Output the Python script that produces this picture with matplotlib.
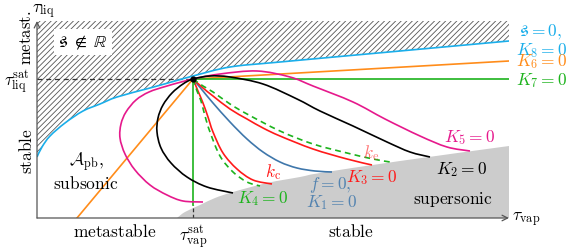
import matplotlib
matplotlib.use("Agg")
import matplotlib.pyplot as plt
from matplotlib.path import Path
from matplotlib.patches import PathPatch

plt.rcParams['mathtext.fontset'] = 'cm'
plt.rcParams['hatch.linewidth'] = 0.6
plt.rcParams['hatch.color'] = '#555555'

# ---------------- data (schematic coordinates: tau_vap, tau_liq) ----------------
sat_point = (156, 139)

cyan_x = [0, 5, 13, 28, 46, 63, 80, 113, 138, 156, 193, 243, 363, 472]
cyan_y = [61, 71, 82, 95, 107, 114, 121, 130, 137, 142, 151, 156, 167, 177]

orange_x = [40, 156, 472]
orange_y = [0, 139, 157]

k7_x = [156, 472]
k7_y = [139, 139]
k7v_x = [156, 156]
k7v_y = [139, 13]

pink_x = [166, 146, 130, 113, 98, 88, 83, 84, 89, 99, 112, 130, 156,
          183, 220, 253, 276, 316, 348, 383, 410, 433]
pink_y = [16, 17, 23, 33, 48, 64, 80, 94, 106, 118, 126, 132, 139,
          144, 147, 141, 132, 116, 99, 82, 71, 67]

black_x = [196, 170, 150, 134, 124, 120, 121, 126, 135, 146, 156,
           173, 193, 226, 260, 283, 316, 350, 373, 393]
black_y = [25, 31, 41, 55, 70, 86, 100, 113, 125, 134, 139,
           142, 141, 134, 119, 107, 92, 76, 66, 61]

k3_x = [156, 166, 176, 193, 210, 226, 243, 276, 310, 335]
k3_y = [139, 130, 122, 109, 99, 90, 82, 69, 59, 53]

ke_x = [156, 166, 176, 193, 210, 243, 276, 310, 336, 353]
ke_y = [139, 132, 126, 114, 104, 87, 74, 65, 59, 56]

k1_x = [156, 166, 176, 193, 210, 226, 243, 260, 278, 295]
k1_y = [139, 127, 115, 96, 79, 66, 56, 50, 47, 46]

kc_x = [156, 161, 166, 171, 176, 186, 200, 216, 235]
kc_y = [139, 127, 115, 101, 86, 65, 49, 38, 34]

k4_x = [156, 160, 164, 168, 173, 183, 196, 210, 223]
k4_y = [139, 127, 117, 102, 86, 62, 46, 36, 32]

super_x = [140, 148, 163, 178, 196, 230, 263, 283, 363, 472]
super_y = [0, 6, 13, 20, 26, 35, 41, 45, 57, 72]

XMAX, YMAX = 472, 197

# colours
C_CYAN = '#1aaeea'
C_ORANGE = '#ff8c1a'
C_GREEN = '#1db31d'
C_PINK = '#e6198c'
C_BLUE = '#3f77ab'
C_RED = '#ff1a1a'


def smooth_vertices(xs, ys):
    """Catmull-Rom through the read points, expressed as cubic Bezier codes."""
    pts = list(zip(xs, ys))
    n = len(pts)
    verts = [pts[0]]
    codes = [Path.MOVETO]
    for i in range(n - 1):
        p0 = pts[i - 1] if i > 0 else pts[i]
        p1 = pts[i]
        p2 = pts[i + 1]
        p3 = pts[i + 2] if i + 2 < n else pts[i + 1]
        c1 = (p1[0] + (p2[0] - p0[0]) / 6, p1[1] + (p2[1] - p0[1]) / 6)
        c2 = (p2[0] - (p3[0] - p1[0]) / 6, p2[1] - (p3[1] - p1[1]) / 6)
        verts += [c1, c2, p2]
        codes += [Path.CURVE4] * 3
    return verts, codes


def smooth_line(xs, ys, zorder=4, **kw):
    v, c = smooth_vertices(xs, ys)
    ax.add_patch(PathPatch(Path(v, c), facecolor='none', zorder=zorder,
                           capstyle='butt', **kw))


def smooth_region(xs, ys, extra, **kw):
    v, c = smooth_vertices(xs, ys)
    v = v + extra + [v[0]]
    c = c + [Path.LINETO] * len(extra) + [Path.CLOSEPOLY]
    ax.add_patch(PathPatch(Path(v, c), **kw))


fig = plt.figure(figsize=(5.71, 2.51), dpi=100)
ax = fig.add_axes([37/571, 32/251, 472/571, 197/251])
ax.set_xlim(0, XMAX)
ax.set_ylim(0, YMAX)
ax.axis('off')

# hatched region (s not real)
smooth_region(cyan_x, cyan_y, [(XMAX, YMAX), (0, YMAX)], facecolor='white',
              edgecolor='#555555', hatch='//////', linewidth=0, zorder=1)
# supersonic region
smooth_region(super_x, super_y, [(XMAX, 0)], facecolor='#cccccc',
              edgecolor='none', linewidth=0, zorder=1)

lw = 1.2
smooth_line(cyan_x, cyan_y, edgecolor=C_CYAN, lw=lw, zorder=3)
ax.plot([0, sat_point[0]], [sat_point[1]]*2, color='#333333', lw=0.9, ls=(0, (4, 3)), zorder=2)
ax.plot([sat_point[0]]*2, [0, 13], color='#333333', lw=0.9, ls=(0, (3, 2)), zorder=2)
ax.plot(orange_x, orange_y, color=C_ORANGE, lw=lw, zorder=3)
ax.plot(k7_x, k7_y, color=C_GREEN, lw=lw, zorder=3)
ax.plot(k7v_x, k7v_y, color=C_GREEN, lw=lw, zorder=3)
smooth_line(pink_x, pink_y, edgecolor=C_PINK, lw=lw, zorder=4)
smooth_line(black_x, black_y, edgecolor='black', lw=lw, zorder=4)
smooth_line(k1_x, k1_y, edgecolor=C_BLUE, lw=lw, zorder=4)
smooth_line(k3_x, k3_y, edgecolor=C_RED, lw=lw, zorder=5)
smooth_line(ke_x, ke_y, edgecolor=C_GREEN, lw=lw, ls=(0, (3.5, 2.5)), zorder=5)
smooth_line(kc_x, kc_y, edgecolor=C_RED, lw=lw, zorder=5)
smooth_line(k4_x, k4_y, edgecolor=C_GREEN, lw=lw, ls=(0, (3.5, 2.5)), zorder=5)
ax.plot([sat_point[0]], [sat_point[1]], 'o', color='black', ms=3.5, zorder=6)

# axes arrows
arr = dict(arrowstyle='->', color='#555555', lw=0.9, shrinkA=0, shrinkB=0)
ax.annotate('', xy=(XMAX, 0), xytext=(0, 0), arrowprops=arr, annotation_clip=False)
ax.annotate('', xy=(0, YMAX), xytext=(0, 0), arrowprops=arr, annotation_clip=False)

fs = 12.5
def t(x, y, s, color='black', **kw):
    ax.text(x, y, s, color=color, fontsize=kw.pop('fontsize', fs),
            ha=kw.pop('ha', 'center'), va=kw.pop('va', 'center'), zorder=7, **kw)

t(-5, 207, r'$\tau_{\mathrm{liq}}$', ha='left')
t(-11, 181, r'$\mathrm{metast.}$', rotation=90, fontsize=12)
t(-10, 68, r'$\mathrm{stable}$', rotation=90)
t(-20, 136, r'$\tau_{\mathrm{liq}}^{\mathrm{sat}}$')
t(78, -13, r'$\mathrm{metastable}$')
t(156, -19, r'$\tau_{\mathrm{vap}}^{\mathrm{sat}}$')
t(314, -13, r'$\mathrm{stable}$')
t(475, -1, r'$\tau_{\mathrm{vap}}$', ha='left')
t(46, 176, r'$\mathfrak{s}\;\notin\;\mathbb{R}$',
  bbox=dict(facecolor='white', edgecolor='none', pad=3))
t(49, 57, r'$\mathcal{A}_{\mathrm{pb}},$')
t(49, 35, r'$\mathrm{subsonic}$')
t(236, 47, r'$k_{\mathrm{c}}$', color=C_RED)
t(226, 20, r'$K_4=0$', color=C_GREEN)
t(293, 34, r'$f=0,$', color=C_BLUE, alpha=0.85)
t(295, 16, r'$K_1=0$', color=C_BLUE, alpha=0.85)
t(334, 66, r'$k_{\mathrm{e}}$', color=C_RED, alpha=0.6)
t(335, 41, r'$K_3=0$', color=C_RED)
t(425, 49, r'$K_2=0$')
t(416, 19, r'$\mathrm{supersonic}$')
t(433, 81, r'$K_5=0$', color=C_PINK)
t(482, 187, r'$\mathfrak{s}=0,$', color=C_CYAN, ha='left')
t(479, 168, r'$K_8=0$', color=C_CYAN, ha='left')
t(479, 157, r'$K_6=0$', color=C_ORANGE, ha='left')
t(479, 138, r'$K_7=0$', color=C_GREEN, ha='left')

fig.savefig('out.png', dpi=100)
